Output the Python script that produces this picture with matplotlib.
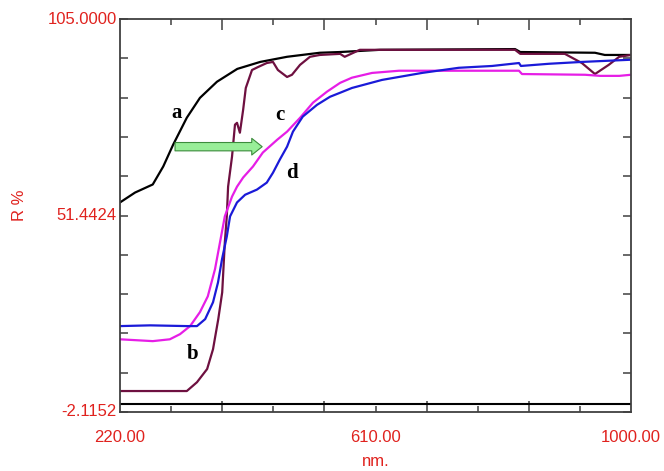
import numpy as np
import matplotlib.pyplot as plt

# reflectance spectra (nm, R %)
wl_a = [220, 243, 270, 286, 301, 322, 342, 368, 399, 434, 475, 525, 556, 617, 823, 831, 945, 960, 1000]
r_a = [55.0, 57.7, 59.9, 64.8, 70.7, 78.1, 83.5, 87.9, 91.4, 93.3, 94.7, 95.8, 96.0, 96.6, 96.8, 96.0, 95.8, 95.2, 95.2]

wl_b = [220, 322, 337.5, 353, 362, 370, 376, 380, 383, 385, 391, 395.5, 398.6, 403, 408, 412,
        421.5, 430.6, 444, 453.5, 461, 475, 482.5, 494.8, 510, 525, 556, 563, 586, 823, 831,
        899, 925, 945, 966, 982, 1000]
r_b = [3.6, 3.6, 6.0, 9.6, 15.0, 23.2, 30.5, 44.1, 51.2, 59.3, 67.5, 76.2, 76.7, 74.0, 80.3, 86.2,
       91.1, 91.9, 93.0, 93.3, 91.1, 89.2, 89.8, 92.5, 94.7, 95.2, 95.5, 94.7, 96.6, 96.6, 95.5,
       95.5, 93.0, 90.0, 92.5, 94.7, 95.2]

wl_c = [220, 270, 296, 311.6, 327, 342, 354, 365, 372.6, 380, 391, 398.6, 408, 423, 438, 460, 475,
        495, 514.6, 536, 556, 574, 604.7, 646, 829, 833.6, 930, 953, 982, 1000]
r_c = [17.7, 17.2, 17.7, 19.1, 21.3, 25.1, 29.4, 36.8, 44.1, 51.2, 56.6, 59.3, 61.8, 64.8, 68.6, 72.1, 74.3,
       78.1, 82.2, 85.2, 87.6, 89.0, 90.3, 90.9, 90.9, 90.0, 89.8, 89.5, 89.5, 89.8]

wl_d = [220, 266, 322, 337.5, 350, 362, 369.6, 375.7, 383, 388, 398.6, 411, 429, 444, 453.5, 464, 475,
        484, 499, 520.7, 540.5, 556, 574, 620, 681, 737, 788, 829, 832, 875, 925, 1000]
r_d = [21.3, 21.5, 21.3, 21.3, 23.2, 27.8, 33.2, 39.5, 45.7, 51.2, 55.0, 57.1, 58.5, 60.4, 63.1, 66.7, 70.2,
       74.3, 78.4, 81.6, 83.8, 84.9, 86.2, 88.4, 90.3, 91.7, 92.2, 93.0, 92.2, 92.8, 93.3, 93.9]

x_min, x_max = 220.0, 1000.0
y_min, y_max = -2.1152, 105.0
y_mid = 51.4424

curve_labels = ["a", "b", "c", "d"]
label_x = [307, 331, 464, 482.5]
label_y = [79.4, 13.6, 78.9, 63.1]

# green shift arrow
arrow_from = (304, 70.2)
arrow_to = (437, 70.2)

red = "#e0221e"
lab_font = ["Liberation Sans", "DejaVu Sans"]

fig = plt.figure(figsize=(6.64, 4.71), dpi=100)
ax = fig.add_axes([120 / 664, 1 - 412 / 471, 511 / 664, 393 / 471])

ax.plot(wl_a, r_a, color="black", lw=1.6)
ax.plot(wl_b, r_b, color="#6e1040", lw=1.6)
ax.plot(wl_c, r_c, color="#e61ee6", lw=1.6)
ax.plot(wl_d, r_d, color="#1a1ad8", lw=1.6)

ax.axhline(0, color="black", lw=1.5)

ax.set_xlim(x_min, x_max)
ax.set_ylim(y_min, y_max)

xt = np.linspace(x_min, x_max, 11)
yt = np.linspace(y_min, y_max, 11)
ax.set_xticks(xt[2:-1:2])
ax.set_xticks(xt[1:-1:2], minor=True)
ax.set_yticks(yt)
ax.tick_params(axis="x", which="major", direction="in", length=8, width=1.1,
               top=True, bottom=True, labelbottom=False, color="#404040")
ax.tick_params(axis="x", which="minor", direction="in", length=4.5, width=1.1,
               top=True, bottom=True, color="#404040")
ax.tick_params(axis="y", direction="in", length=6, width=1.1,
               left=True, right=True, labelleft=False, color="#404040")
for s in ax.spines.values():
    s.set_color("#404040")
    s.set_linewidth(1.3)

for v in [y_max, y_mid, y_min]:
    ax.text(-0.006, v, "%.4f" % v, transform=ax.get_yaxis_transform(),
            ha="right", va="center", color=red, fontsize=12, family=lab_font)
for v in [x_min, (x_min + x_max) / 2, x_max]:
    ax.text(v, -0.064, "%.2f" % v, transform=ax.get_xaxis_transform(),
            ha="center", va="center", color=red, fontsize=12, family=lab_font)
ax.text(0.5, -0.127, "nm.", transform=ax.transAxes, ha="center", va="center",
        color=red, fontsize=12, family=lab_font)
fig.text(20 / 664, 1 - 205 / 471, "R %", rotation=90, ha="center", va="center",
         color=red, fontsize=12, family=lab_font)

for t, lx, ly in zip(curve_labels, label_x, label_y):
    ax.text(lx, ly, t, ha="center", va="center", fontsize=15, fontweight="bold",
            family=["Liberation Serif", "DejaVu Serif"])

ax.annotate("", xy=arrow_to, xytext=arrow_from,
            arrowprops=dict(arrowstyle="simple,head_width=1.2,head_length=0.75,tail_width=0.6",
                            mutation_scale=10, fc="#98ee98", ec="#3c8c3c", lw=0.8,
                            shrinkA=0, shrinkB=0))

fig.savefig("out.png", dpi=100)
